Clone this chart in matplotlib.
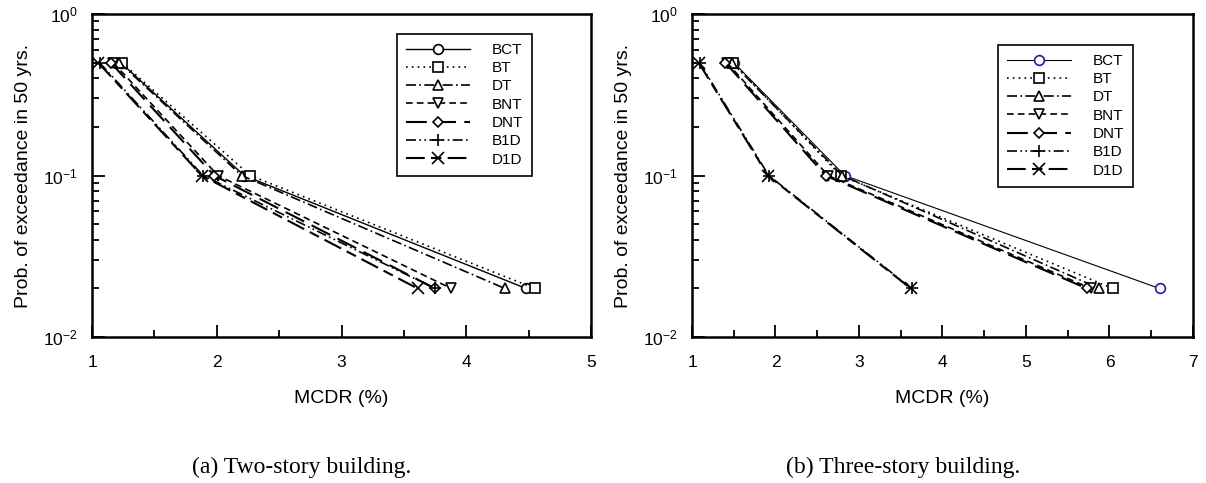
import matplotlib
matplotlib.use("Agg")
from matplotlib import pyplot as plt
from matplotlib.ticker import MultipleLocator, LogLocator, NullFormatter

plt.rcParams['font.family'] = ['Liberation Sans', 'DejaVu Sans']

# probability levels (same for every curve)
prob = [0.5, 0.1, 0.02]
labels = ["BCT", "BT", "DT", "BNT", "DNT", "B1D", "D1D"]

# two-story building, MCDR (%) at each probability level
two_story = {
    "BCT": [1.23, 2.22, 4.48],
    "BT": [1.24, 2.27, 4.55],
    "DT": [1.22, 2.20, 4.31],
    "BNT": [1.17, 2.01, 3.88],
    "DNT": [1.15, 1.98, 3.75],
    "B1D": [1.06, 1.89, 3.75],
    "D1D": [1.05, 1.88, 3.61],
}

# three-story building
three_story = {
    "BCT": [1.50, 2.83, 6.60],
    "BT": [1.49, 2.78, 6.04],
    "DT": [1.48, 2.80, 5.88],
    "BNT": [1.42, 2.63, 5.78],
    "DNT": [1.40, 2.60, 5.73],
    "B1D": [1.09, 1.92, 3.63],
    "D1D": [1.08, 1.91, 3.62],
}

styles = {
    "BCT": dict(ls='-', marker='o', lw=1.0),
    "BT": dict(ls=(0, (1, 2.5)), marker='s', lw=1.2),
    "DT": dict(ls=(0, (6, 2, 1, 2)), marker='^', lw=1.2),
    "BNT": dict(ls=(0, (4, 2.5)), marker='v', lw=1.2),
    "DNT": dict(ls=(0, (10, 4)), marker='D', lw=1.5),
    "B1D": dict(ls=(0, (6, 2, 1, 2, 1, 2)), marker='+', lw=1.2),
    "D1D": dict(ls=(0, (9, 3, 5, 3)), marker='x', lw=1.5),
}

fig = plt.figure(figsize=(12.06, 4.83), dpi=100)
ax1 = fig.add_axes([0.0763, 0.302, 0.4138, 0.669])
ax2 = fig.add_axes([0.5738, 0.302, 0.4154, 0.669])


def draw(ax, data, xmax, circ_col, bct_lw):
    for name in labels:
        st = dict(styles[name])
        ms = 7 if st['marker'] not in ('+', 'x') else 9
        if st['marker'] == 'D':
            ms = 5.5
        mec = 'black'
        if name == "BCT":
            mec = circ_col
            st['lw'] = bct_lw
        ax.plot(data[name], prob, color='black', linestyle=st['ls'], lw=st['lw'],
                marker=st['marker'], ms=ms, mfc='white', mec=mec, mew=1.2,
                label=name)
    ax.set_yscale('log')
    ax.set_ylim(0.01, 1)
    ax.set_xlim(1, xmax)
    ax.xaxis.set_major_locator(MultipleLocator(1))
    ax.xaxis.set_minor_locator(MultipleLocator(0.5))
    ax.yaxis.set_major_locator(LogLocator(base=10))
    ax.yaxis.set_minor_locator(LogLocator(base=10, subs=range(2, 10)))
    ax.yaxis.set_minor_formatter(NullFormatter())
    ax.tick_params(which='both', direction='in', top=False, right=False,
                   labelsize=12.5, width=1.3)
    ax.tick_params(which='major', length=9, pad=13)
    ax.tick_params(which='major', axis='y', pad=10)
    ax.tick_params(which='minor', length=5)
    for sp in ax.spines.values():
        sp.set_linewidth(1.8)
    ax.set_xlabel("MCDR (%)", fontsize=14, labelpad=14)
    ax.set_ylabel("Prob. of exceedance in 50 yrs.", fontsize=14, labelpad=8)


draw(ax1, two_story, 5, 'black', 1.0)
draw(ax2, three_story, 7, '#1f1f9e', 0.8)

for ax, top in ((ax1, 0.939), (ax2, 0.905)):
    leg = ax.legend(loc='upper left', bbox_to_anchor=(0.611, top), borderaxespad=0,
                    fontsize=11, handlelength=4.2, handletextpad=1.4,
                    labelspacing=0.28, borderpad=0.6, numpoints=1,
                    fancybox=False, framealpha=1, edgecolor='black')
    leg.get_frame().set_linewidth(1.2)

fig.text(0.2504, 0.033, "(a) Two-story building.", fontsize=17,
         family='Liberation Serif', ha='center', va='center')
fig.text(0.749, 0.033, "(b) Three-story building.", fontsize=17,
         family='Liberation Serif', ha='center', va='center')

fig.savefig("out.png", dpi=100)
